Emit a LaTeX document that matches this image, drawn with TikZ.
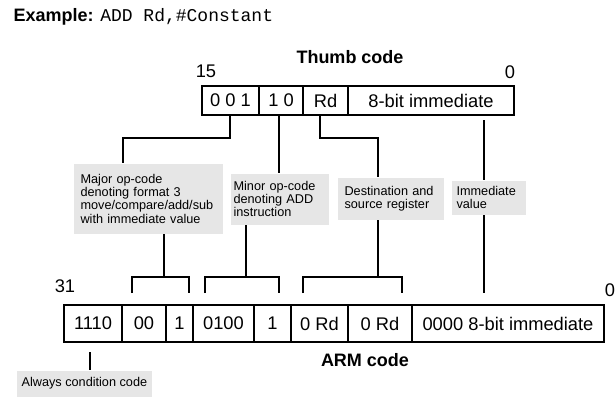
\documentclass[tikz,border=0pt]{standalone}
\usepackage{fontspec}
\setmainfont{Liberation Sans}
\setmonofont{Liberation Mono}
\definecolor{lblfill}{RGB}{230,230,230}
\begin{document}
\begin{tikzpicture}[x=1pt,y=-1pt,line width=1.1pt,
  tcell/.style={draw,inner sep=0pt,outer sep=0pt,minimum height=29pt,font=\fontsize{18.3}{20}\selectfont},
  acell/.style={draw,inner sep=0pt,outer sep=0pt,minimum height=37pt,font=\fontsize{18.3}{20}\selectfont},
  bignum/.style={inner sep=0pt,font=\fontsize{18.3}{20}\selectfont},
  title/.style={inner sep=0pt,font=\fontsize{18}{20}\selectfont\bfseries},
  lbl/.style={fill=lblfill,anchor=north west,align=left,inner ysep=0pt,font=\fontsize{12.7}{13.3}\selectfont}]
\useasboundingbox (0,0) rectangle (616,397);

% title line
\node[anchor=west,inner sep=0pt,font=\fontsize{18}{20}\selectfont] (ex) at (13,17)
  {\textbf{Example:} \texttt{ADD Rd,\#Constant}};

% Thumb code
\node[title] (thumbt) at (350,57) {Thumb code};
\node[bignum] (n15) at (206,71) {15};
\node[bignum] (n0t) at (510,72) {0};
\node[tcell,minimum width=57pt] (t1) at (230.5,100.5) {0 0 1};
\node[tcell,minimum width=44pt] (t2) at (281,100.5) {1 0};
\node[tcell,minimum width=45pt] (t3) at (325.5,100.5) {Rd};
\node[tcell,minimum width=166pt] (t4) at (431,100.5) {8-bit immediate};

% label boxes
\node[lbl,text width=135pt,inner xsep=7pt,minimum height=70pt] (major) at (73,163)
  {Major op-code\\denoting format 3\\move/compare/add/sub\\with immediate value};
\node[lbl,text width=92pt,inner xsep=3pt,minimum height=51pt] (minor) at (230,173)
  {Minor op-code\\denoting ADD\\instruction};
\node[lbl,text width=92pt,inner xsep=7pt,minimum height=42pt] (dest) at (337,177)
  {Destination and\\source register};
\node[lbl,text width=64pt,inner xsep=5pt,minimum height=34pt] (imm) at (451,180)
  {Immediate\\value};
\node[lbl,inner xsep=5pt,minimum width=132pt,minimum height=26pt] (always) at (16,370)
  {Always condition code};

% ARM code
\node[bignum] (n31) at (65,286) {31};
\node[bignum] (n0a) at (610,290) {0};
\node[acell,minimum width=58pt] (a1) at (93,323.5) {1110};
\node[acell,minimum width=44pt] (a2) at (144,323.5) {00};
\node[acell,minimum width=27pt] (a3) at (179.5,323.5) {1};
\node[acell,minimum width=61pt] (a4) at (223.5,323.5) {0100};
\node[acell,minimum width=37pt] (a5) at (272.5,323.5) {1};
\node[acell,minimum width=57pt] (a6) at (319.5,323.5) {0 Rd};
\node[acell,minimum width=64pt] (a7) at (380,323.5) {0 Rd};
\node[acell,minimum width=192pt] (a8) at (508,323.5) {0000 8-bit immediate};
\node[title] (armt) at (365,360) {ARM code};

% connectors Thumb -> labels
\draw (t1.south -| 230,0) |- (123,138) -- (major.north -| 123,0);
\draw (t2.south -| 279,0) -- (minor.north -| 279,0);
\draw (t3.south -| 320,0) |- (378,138) -- (dest.north -| 378,0);
\coordinate (immtop) at (484,120);
\draw (immtop) -- (imm.north -| immtop);

% connectors labels -> ARM brackets
\coordinate (b1l) at (132,293); \coordinate (b1r) at (189,293);
\coordinate (b2l) at (205,293); \coordinate (b2r) at (279,293);
\coordinate (b3l) at (303,293); \coordinate (b3r) at (402,293);
\draw (major.south -| 164,0) -- (164,277);
\draw (b1l) -- (b1l |- 0,277) -- (b1r |- 0,277) -- (b1r);
\draw (minor.south -| 246,0) -- (246,277);
\draw (b2l) -- (b2l |- 0,277) -- (b2r |- 0,277) -- (b2r);
\draw (dest.south -| 378,0) -- (378,277);
\draw (b3l) -- (b3l |- 0,277) -- (b3r |- 0,277) -- (b3r);
\coordinate (immbot) at (484,293);
\draw (imm.south -| immbot) -- (immbot);

% always
\coordinate (alwtop) at (90,352);
\draw (alwtop) -- (always.north -| alwtop);
\end{tikzpicture}
\end{document}
